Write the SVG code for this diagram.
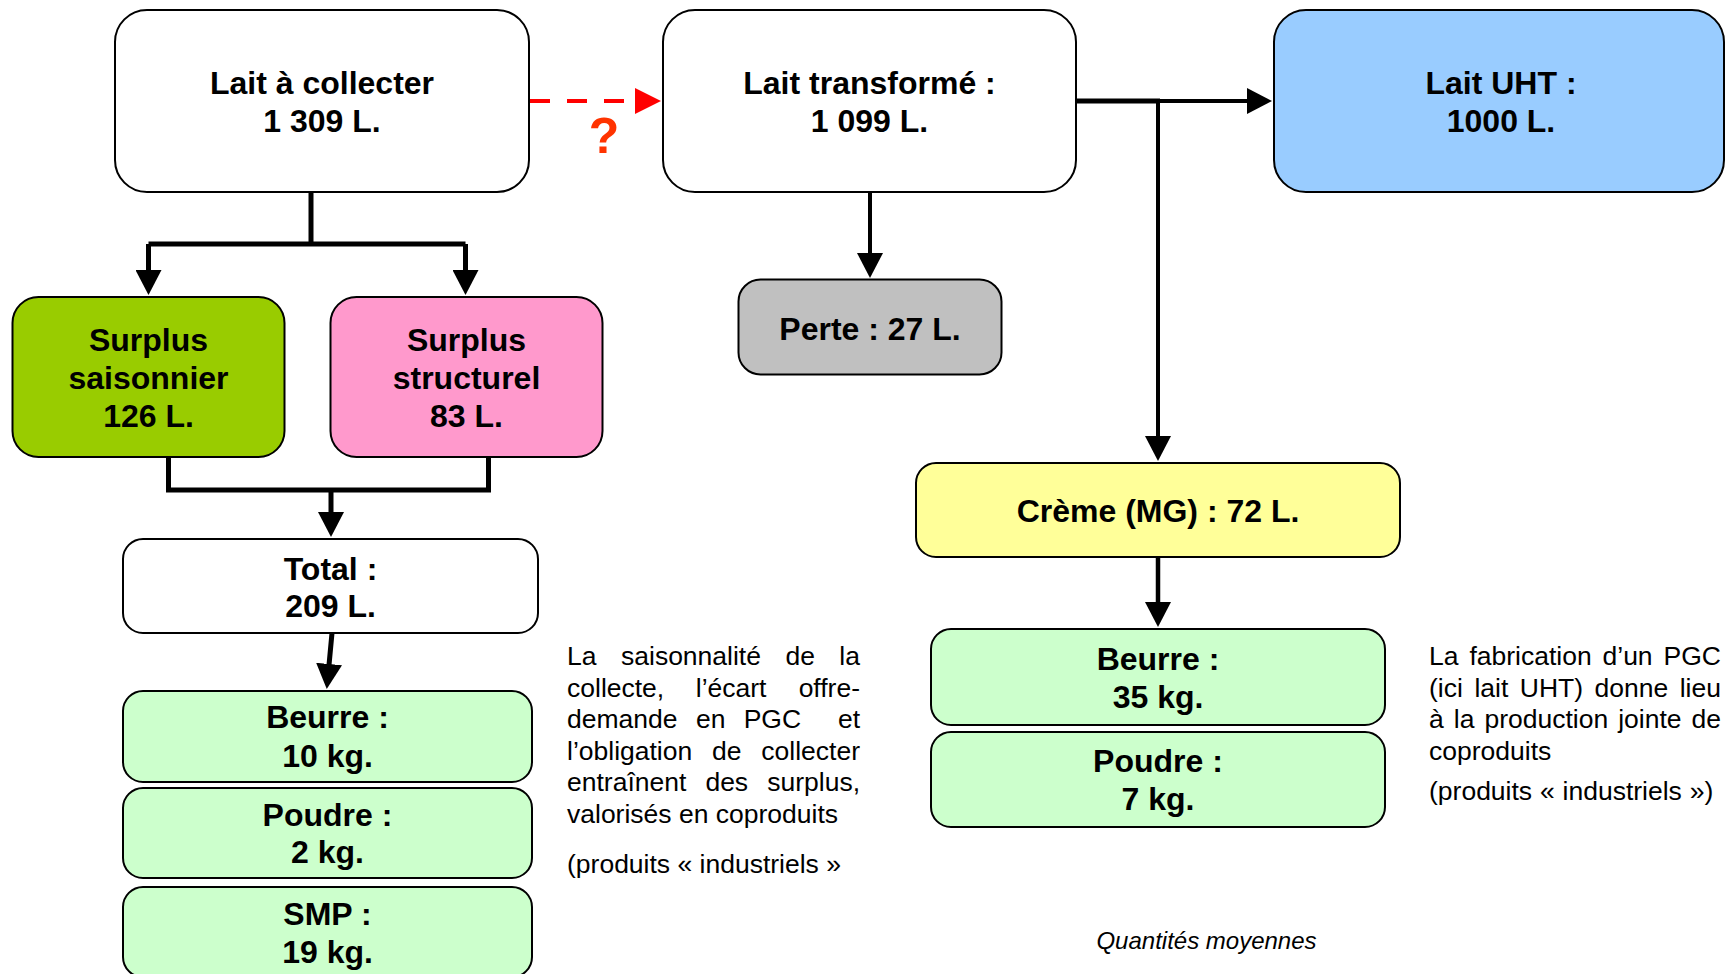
<svg xmlns="http://www.w3.org/2000/svg" width="1726" height="974" viewBox="0 0 1726 974">
<style>
.box{stroke:#000;stroke-width:2}
.t{font-family:"Liberation Sans",Arial,sans-serif;font-weight:bold;font-size:32px;fill:#000;text-anchor:middle}
.p{font-family:"Liberation Sans",Arial,sans-serif;font-size:26.5px;fill:#000}
.e{text-anchor:end}
.c{fill:none;stroke:#000;stroke-linejoin:miter}
</style>
<defs>
<marker id="ah" markerUnits="userSpaceOnUse" markerWidth="26" markerHeight="26" viewBox="0 0 26 26" refX="1" refY="13" orient="auto">
<path d="M0,0 L25,13 L0,26 z" fill="#000"/>
</marker>
<marker id="ahr" markerUnits="userSpaceOnUse" markerWidth="26" markerHeight="26" viewBox="0 0 26 26" refX="1" refY="13" orient="auto">
<path d="M0,0 L26,13 L0,26 z" fill="#FF0000"/>
</marker>
</defs>
<rect width="1726" height="974" fill="#fff"/>

<g id="connectors">
<path class="c" d="M311,192 V244" stroke-width="5"/>
<path class="c" d="M148.5,244 H465.5" stroke-width="5"/>
<path class="c" d="M148.5,244 V271" stroke-width="5" marker-end="url(#ah)"/>
<path class="c" d="M465.5,244 V271" stroke-width="5" marker-end="url(#ah)"/>
<path class="c" d="M168.5,457 V490 H488.5 V457" stroke-width="5"/>
<path class="c" d="M331,490 V513" stroke-width="5" marker-end="url(#ah)"/>
<path class="c" d="M332,633 L329,665" stroke-width="5" marker-end="url(#ah)"/>
<path d="M530,101 H636" fill="none" stroke="#FF0000" stroke-width="4" stroke-dasharray="20,17" marker-end="url(#ahr)"/>
<path class="c" d="M1076,101 H1160" stroke-width="5"/>
<path class="c" d="M1158,101 H1248" stroke-width="4" marker-end="url(#ah)"/>
<path class="c" d="M1158,101 V437" stroke-width="4" marker-end="url(#ah)"/>
<path class="c" d="M870,192 V254" stroke-width="4" marker-end="url(#ah)"/>
<path class="c" d="M1158,557 V603" stroke-width="4.5" marker-end="url(#ah)"/>
<text x="604" y="153" font-family="Liberation Sans,Arial,sans-serif" font-weight="bold" font-size="50" fill="#FF3300" text-anchor="middle">?</text>
</g>

<g id="lait-collecter">
<rect class="box" x="115" y="10" width="414" height="182" rx="32" fill="#fff"/>
<text class="t" x="322" y="94">Lait à collecter</text>
<text class="t" x="322" y="132">1 309 L.</text>
</g>

<g id="lait-transforme">
<rect class="box" x="663" y="10" width="413" height="182" rx="32" fill="#fff"/>
<text class="t" x="869.5" y="94">Lait transformé :</text>
<text class="t" x="869.5" y="132">1 099 L.</text>
</g>

<g id="lait-uht">
<rect class="box" x="1274" y="10" width="450" height="182" rx="32" fill="#99CCFF"/>
<text class="t" x="1501" y="94">Lait UHT :</text>
<text class="t" x="1501" y="132">1000 L.</text>
</g>

<g id="surplus-saisonnier">
<rect class="box" x="12.5" y="297" width="272" height="160" rx="26" fill="#99CC00"/>
<text class="t" x="148.5" y="351">Surplus</text>
<text class="t" x="148.5" y="389">saisonnier</text>
<text class="t" x="148.5" y="427">126 L.</text>
</g>

<g id="surplus-structurel">
<rect class="box" x="330.5" y="297" width="272" height="160" rx="26" fill="#FF99CC"/>
<text class="t" x="466.5" y="351">Surplus</text>
<text class="t" x="466.5" y="389">structurel</text>
<text class="t" x="466.5" y="427">83 L.</text>
</g>

<g id="total">
<rect class="box" x="123" y="539" width="415" height="94" rx="20" fill="#fff"/>
<text class="t" x="330.5" y="580">Total :</text>
<text class="t" x="330.5" y="617">209 L.</text>
</g>

<g id="beurre-10">
<rect class="box" x="123" y="691" width="409" height="91" rx="20" fill="#CCFFCC"/>
<text class="t" x="327.5" y="728">Beurre :</text>
<text class="t" x="327.5" y="766.5">10 kg.</text>
</g>

<g id="poudre-2">
<rect class="box" x="123" y="788" width="409" height="90" rx="20" fill="#CCFFCC"/>
<text class="t" x="327.5" y="826">Poudre :</text>
<text class="t" x="327.5" y="863">2 kg.</text>
</g>

<g id="smp">
<rect class="box" x="123" y="887" width="409" height="90" rx="20" fill="#CCFFCC"/>
<text class="t" x="327.5" y="925">SMP :</text>
<text class="t" x="327.5" y="963">19 kg.</text>
</g>

<g id="perte">
<rect class="box" x="738.5" y="279.5" width="263" height="95" rx="22" fill="#C0C0C0"/>
<text class="t" x="870" y="339.5">Perte : 27 L.</text>
</g>

<g id="creme">
<rect class="box" x="916" y="463" width="484" height="94" rx="20" fill="#FFFF99"/>
<text class="t" x="1158" y="521.5">Crème (MG) : 72 L.</text>
</g>

<g id="beurre-35">
<rect class="box" x="931" y="629" width="454" height="96" rx="20" fill="#CCFFCC"/>
<text class="t" x="1158" y="670">Beurre :</text>
<text class="t" x="1158" y="708">35 kg.</text>
</g>

<g id="poudre-7">
<rect class="box" x="931" y="732" width="454" height="95" rx="20" fill="#CCFFCC"/>
<text class="t" x="1158" y="772">Poudre :</text>
<text class="t" x="1158" y="810">7 kg.</text>
</g>

<g id="note-left">
<text class="p" x="567" y="665">La</text>
<text class="p" x="621" y="665">saisonnalité</text>
<text class="p" x="785.4" y="665">de</text>
<text class="p e" x="860" y="665">la</text>
<text class="p" x="567" y="696.5">collecte,</text>
<text class="p" x="695.8" y="696.5">l’écart</text>
<text class="p e" x="860" y="696.5">offre-</text>
<text class="p" x="567" y="728">demande</text>
<text class="p" x="695.9" y="728">en</text>
<text class="p" x="743.7" y="728">PGC</text>
<text class="p e" x="860" y="728">et</text>
<text class="p" x="567" y="759.5">l’obligation</text>
<text class="p" x="712" y="759.5">de</text>
<text class="p e" x="860" y="759.5">collecter</text>
<text class="p" x="567" y="791">entraînent</text>
<text class="p" x="705.4" y="791">des</text>
<text class="p e" x="860" y="791">surplus,</text>
<text class="p" x="567" y="822.5">valorisés en coproduits</text>
<text class="p" x="567" y="873">(produits « industriels »</text>
</g>

<g id="note-right">
<text class="p" x="1429" y="665">La</text>
<text class="p" x="1469.4" y="665">fabrication</text>
<text class="p" x="1602.5" y="665">d’un</text>
<text class="p e" x="1721" y="665">PGC</text>
<text class="p" x="1429" y="696.5">(ici</text>
<text class="p" x="1474.4" y="696.5">lait</text>
<text class="p" x="1519.8" y="696.5">UHT)</text>
<text class="p" x="1594.6" y="696.5">donne</text>
<text class="p e" x="1721" y="696.5">lieu</text>
<text class="p" x="1429" y="728">à</text>
<text class="p" x="1453.8" y="728">la</text>
<text class="p" x="1484.4" y="728">production</text>
<text class="p" x="1618.2" y="728">jointe</text>
<text class="p e" x="1721" y="728">de</text>
<text class="p" x="1429" y="759.5">coproduits</text>
<text class="p" x="1429" y="800" word-spacing="0.5">(produits « industriels »)</text>
</g>

<g id="caption">
<text x="1206.5" y="949" font-family="Liberation Sans,Arial,sans-serif" font-style="italic" font-size="24" fill="#000" text-anchor="middle">Quantités moyennes</text>
</g>
</svg>
